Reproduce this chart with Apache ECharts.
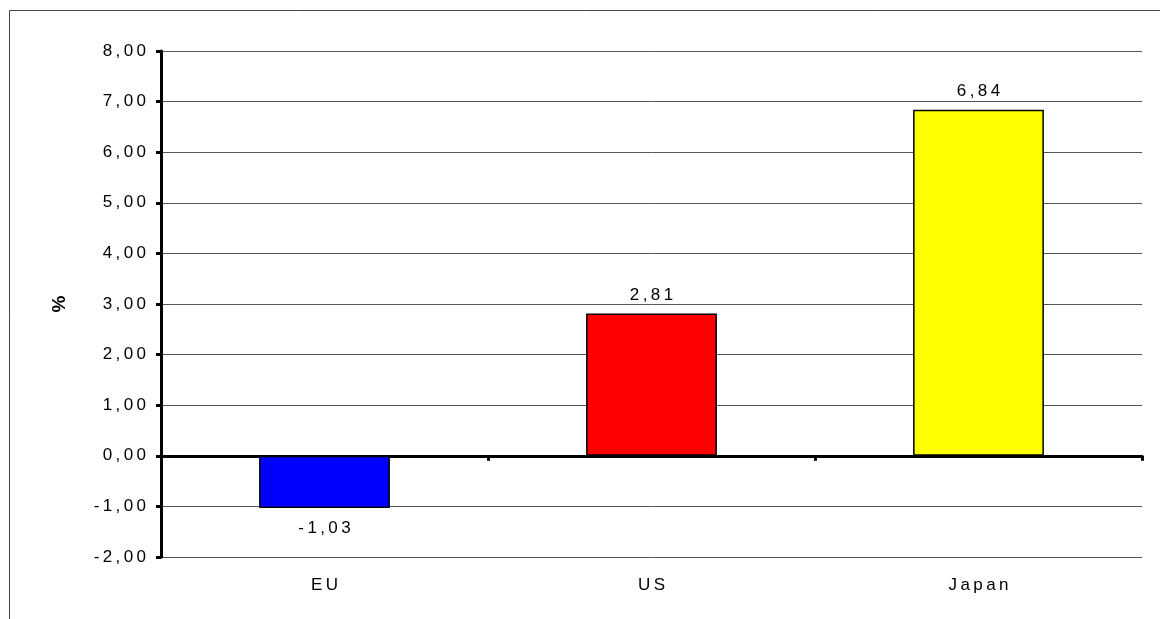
<!DOCTYPE html>
<html>
<head>
<meta charset="utf-8">
<script src="https://cdn.jsdelivr.net/npm/echarts@6/dist/echarts.min.js"></script>
<style>
  html, body { margin: 0; padding: 0; background: #fff; }
  #chart { width: 1160px; height: 619px; }
</style>
</head>
<body>
<div id="chart"></div>
<script>
// regions and their values (%)
const regions = ['EU', 'US', 'Japan'];
const values = [-1.03, 2.81, 6.84];
const barColors = ['#0000ff', '#ff0000', '#ffff00'];

const yMin = -2;
const yMax = 8;
const yStep = 1;

// wide letter spacing like the original
function spaced(s) {
  return String(s).split('').join('\u2009');
}

// 1,23 style numbers
function fmt(v) {
  return spaced(v.toFixed(2).replace('.', ','));
}

const myChart = echarts.init(document.getElementById('chart'));
const option = {
  animation: false,
  textStyle: { fontFamily: 'Liberation Sans, Arial, sans-serif' },
  graphic: [
    {
      type: 'rect',
      shape: { x: 9.5, y: 10.5, width: 1300, height: 800 },
      style: { fill: 'none', stroke: '#444', lineWidth: 1 },
      silent: true,
    },
  ],
  grid: {
    left: 161,
    right: 18,
    top: 51,
    bottom: 62,
    outerBoundsMode: 'none',
  },
  xAxis: [
    {
      // zero line with the category ticks
      type: 'category',
      data: regions,
      axisLine: { onZero: true, lineStyle: { color: '#000', width: 3 } },
      axisTick: { show: true, length: 5, lineStyle: { color: '#000', width: 3 } },
      axisLabel: { show: false },
    },
    {
      // category names under the plot
      type: 'category',
      data: regions,
      position: 'bottom',
      axisLine: { show: false, onZero: false },
      axisTick: { show: false },
      axisLabel: {
        color: '#000',
        fontSize: 17,
        margin: 20,
        formatter: function(v) { return spaced(v); },
      },
    },
  ],
  yAxis: {
    type: 'value',
    min: yMin,
    max: yMax,
    interval: yStep,
    name: '%',
    nameLocation: 'middle',
    nameGap: 92,
    nameTextStyle: { color: '#000', fontSize: 19, fontWeight: 'bold' },
    axisLine: { show: true, lineStyle: { color: '#000', width: 3 } },
    axisTick: { show: true, length: 5, lineStyle: { color: '#000', width: 3 } },
    axisLabel: {
      color: '#000',
      fontSize: 17,
      margin: 15,
      formatter: function(v) { return fmt(v); },
    },
    splitLine: { show: true, lineStyle: { color: '#555', width: 1 } },
  },
  series: [
    {
      type: 'bar',
      barWidth: '40%',
      data: values.map(function(v, i) {
        return {
          value: v,
          itemStyle: { color: barColors[i] },
          label: { position: v < 0 ? 'bottom' : 'top', distance: v < 0 ? 12 : 10 },
        };
      }),
      itemStyle: { borderColor: '#000', borderWidth: 1.5 },
      label: {
        show: true,
        color: '#000',
        fontSize: 17,
        formatter: function(p) { return fmt(p.value); },
      },
    },
  ],
};
myChart.setOption(option);
</script>
</body>
</html>
